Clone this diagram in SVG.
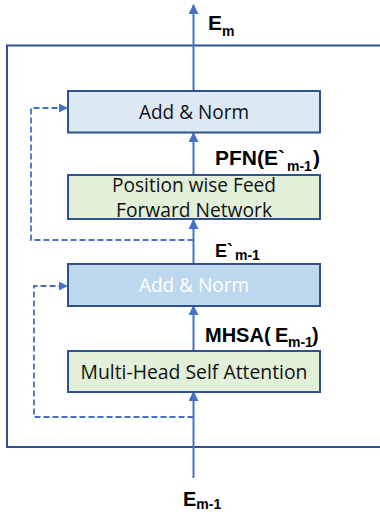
<svg xmlns="http://www.w3.org/2000/svg" width="380" height="517" viewBox="0 0 380 517">
<style>
.box{stroke:#2f528f;stroke-width:2}
.t{font-family:"Open Sans","Noto Sans",sans-serif;font-size:20px;fill:#111;text-anchor:middle}
.lbl{font-family:"Liberation Sans",Arial,sans-serif;font-weight:bold;font-size:20px;fill:#000}
.sub{font-size:14px}
.ln{stroke:#4472c4;stroke-width:2;fill:none}
.dash{stroke:#4472c4;stroke-width:1.8;fill:none;stroke-dasharray:6,3}
</style>
<defs>
<marker id="ah" viewBox="0 0 10 10" refX="9" refY="5" markerWidth="5" markerHeight="5" orient="auto" markerUnits="strokeWidth">
<path d="M0,0 L10,5 L0,10 z" fill="#4472c4"/>
</marker>
</defs>
<rect x="7" y="45.5" width="380" height="401.5" fill="none" stroke="#2f528f" stroke-width="2"/>
<g id="connectors">
<line class="ln" x1="193.5" y1="91" x2="193.5" y2="5" marker-end="url(#ah)"/>
<line class="ln" x1="193.5" y1="175" x2="193.5" y2="133" marker-end="url(#ah)"/>
<line class="ln" x1="193.5" y1="264" x2="193.5" y2="220" marker-end="url(#ah)"/>
<line class="ln" x1="193.5" y1="351" x2="193.5" y2="306" marker-end="url(#ah)"/>
<line class="ln" x1="193.5" y1="478" x2="193.5" y2="392" marker-end="url(#ah)"/>
<polyline class="dash" points="193.5,240 31,240 31,108 67,108" marker-end="url(#ah)"/>
<polyline class="dash" points="193.5,417 34,417 34,286 67,286" marker-end="url(#ah)"/>
</g>
<g id="addnorm2top">
<rect class="box" x="68" y="91" width="252" height="41.5" fill="#dde8f5"/>
<text class="t" x="194" y="119" textLength="110" lengthAdjust="spacingAndGlyphs">Add &amp; Norm</text>
</g>
<g id="pfn">
<rect class="box" x="68" y="175" width="252" height="44" fill="#e2efd9"/>
<text class="t" x="194" y="192" textLength="164" lengthAdjust="spacingAndGlyphs">Position wise Feed</text>
<text class="t" x="194" y="217" textLength="156" lengthAdjust="spacingAndGlyphs">Forward Network</text>
</g>
<g id="addnorm1">
<rect class="box" x="68" y="264" width="252" height="42" fill="#bdd7ee"/>
<text class="t" x="194" y="292" textLength="110" lengthAdjust="spacingAndGlyphs" style="fill:#fff">Add &amp; Norm</text>
</g>
<g id="mhsa">
<rect class="box" x="68" y="351" width="252" height="41" fill="#e2efd9"/>
<text class="t" x="194" y="379" textLength="227" lengthAdjust="spacingAndGlyphs">Multi-Head Self Attention</text>
</g>
<g id="labels">
<text class="lbl" x="208" y="30" style="font-size:21px">E<tspan class="sub" dy="6">m</tspan></text>
<text class="lbl" x="215" y="165" style="font-size:21px">PFN(E`<tspan class="sub" x="287" dy="6">m-1</tspan><tspan x="313" dy="-6">)</tspan></text>
<text class="lbl" x="215" y="257" style="font-size:18px">E`<tspan class="sub" x="235" dy="3">m-1</tspan></text>
<text class="lbl" x="205" y="342">MHSA(<tspan x="275">E</tspan><tspan class="sub" x="288" dy="5">m-1</tspan><tspan x="312" dy="-5">)</tspan></text>
<text class="lbl" x="183" y="506">E<tspan class="sub" dy="3">m-1</tspan></text>
</g>
</svg>
